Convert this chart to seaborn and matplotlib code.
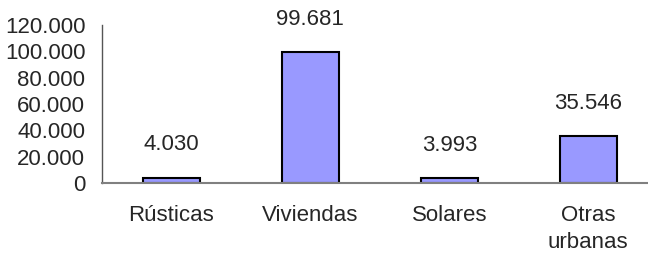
import seaborn as sns
import matplotlib.pyplot as plt
import pandas as pd

categorias = ['Rústicas', 'Viviendas', 'Solares', 'Otras\nurbanas']
valores = [4030, 99681, 3993, 35546]
yticks = [0, 20000, 40000, 60000, 80000, 100000, 120000]

def fmt(v):
    return f'{v:,.0f}'.replace(',', '.')

df = pd.DataFrame({'cat': categorias, 'valor': valores})

sns.set_style('white')
plt.rcParams['font.family'] = ['Liberation Sans', 'DejaVu Sans']
plt.rcParams['font.size'] = 16

fig = plt.figure(figsize=(6.48, 2.59), dpi=100)
ax = fig.add_axes([102 / 648, 76 / 259, 546 / 648, 158 / 259])

sns.barplot(df, x='cat', y='valor', color='#9999FF', saturation=1,
            width=0.41, edgecolor='black', linewidth=1.5, ax=ax)

for i, v in enumerate(valores):
    ax.annotate(fmt(v), (i, v), xytext=(0, 16), textcoords='offset points',
                ha='center', va='bottom', fontsize=16)

ax.set_ylim(0, 120000)
ax.set_xlim(-0.5, 3.43)
ax.set_yticks(yticks)
ax.set_yticklabels([fmt(t) for t in yticks])
ax.set_xlabel('')
ax.set_ylabel('')

ax.set_xticks([0, 1, 2, 3])
ax.set_xticks([-0.5, 0.5, 1.5, 2.5], minor=True)
ax.tick_params(axis='x', which='major', length=0, pad=16, labelsize=16)
for lbl in ax.get_xticklabels():
    lbl.set_linespacing(1.35)
ax.tick_params(axis='x', which='minor', length=5, width=1, color='#555555', direction='out')
ax.tick_params(axis='y', length=5, width=1, color='#555555', direction='out', pad=7, labelsize=16)

for s in ['top', 'right']:
    ax.spines[s].set_visible(False)
ax.spines['left'].set_color('#555555')
ax.spines['bottom'].set_color('#808080')
ax.spines['bottom'].set_linewidth(1.5)
ax.spines['left'].set_linewidth(1)

fig.savefig('out.png', dpi=100)
